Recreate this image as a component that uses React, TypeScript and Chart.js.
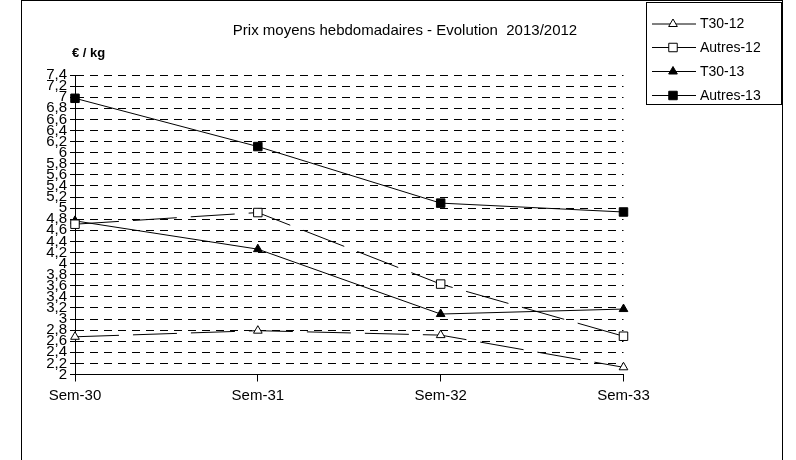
import React, { useEffect, useRef } from 'react';
import { Chart, registerables } from 'chart.js';

Chart.register(...registerables);

const categories = ['Sem-30', 'Sem-31', 'Sem-32', 'Sem-33'];
const seriesNames = ['T30-12', 'Autres-12', 'T30-13', 'Autres-13'];
const t30_12 = [2.68, 2.79, 2.71, 2.13];
const autres12 = [4.71, 4.92, 3.63, 2.69];
const t30_13 = [4.77, 4.26, 3.09, 3.18];
const autres13 = [6.98, 6.11, 5.09, 4.93];
const yMin = 2;
const yMax = 7.4;
const yStep = 0.2;
const titleText = 'Prix moyens hebdomadaires - Evolution  2013/2012';
const unitText = '€ / kg';

const FONT = '"Liberation Sans", Arial, sans-serif';

function drawMarker(ctx: CanvasRenderingContext2D, style: string, x: number, y: number, r: number, fill: string) {
  ctx.beginPath();
  if (style === 'triangle') {
    let rad = 0;
    const step = (2 * Math.PI) / 3;
    ctx.moveTo(x + Math.sin(rad) * r, y - Math.cos(rad) * r);
    rad += step;
    ctx.lineTo(x + Math.sin(rad) * r, y - Math.cos(rad) * r);
    rad += step;
    ctx.lineTo(x + Math.sin(rad) * r, y - Math.cos(rad) * r);
    ctx.closePath();
  } else {
    const s = r * Math.SQRT1_2;
    ctx.rect(x - s, y - s, 2 * s, 2 * s);
  }
  ctx.fillStyle = fill;
  ctx.fill();
  ctx.lineWidth = 1;
  ctx.strokeStyle = '#000';
  ctx.stroke();
}

const decorPlugin = {
  id: 'decor',
  afterDraw(chart: any) {
    const ctx: CanvasRenderingContext2D = chart.ctx;
    ctx.save();
    // outer frame
    ctx.lineWidth = 1;
    ctx.strokeStyle = '#000';
    ctx.setLineDash([]);
    ctx.strokeRect(21.5, 0.5, 761, 480);
    // title
    ctx.fillStyle = '#000';
    ctx.font = `15px ${FONT}`;
    ctx.textAlign = 'center';
    ctx.textBaseline = 'middle';
    ctx.fillText(titleText, 405, 31);
    // unit
    ctx.font = `bold 13px ${FONT}`;
    ctx.textAlign = 'left';
    ctx.fillText(unitText, 72, 53);
    // legend
    ctx.strokeRect(646.5, 2.5, 135, 102);
    ctx.font = `14px ${FONT}`;
    const rows = [24, 47.5, 71.5, 95.5];
    chart.data.datasets.forEach((ds: any, i: number) => {
      const y = rows[i];
      ctx.beginPath();
      ctx.moveTo(652, y);
      ctx.lineTo(696, y);
      ctx.lineWidth = 1;
      ctx.strokeStyle = '#000';
      ctx.stroke();
      drawMarker(ctx, ds.pointStyle, 673, y, ds.pointRadius, ds.pointBackgroundColor);
      ctx.fillStyle = '#000';
      ctx.textAlign = 'left';
      ctx.textBaseline = 'middle';
      ctx.fillText(ds.label, 700, y + 0.5);
    });
    ctx.restore();
  },
};

function fmt(v: number): string {
  const r = Math.round(v * 10) / 10;
  return String(r).replace('.', ',');
}

export default function App() {
  const ref = useRef<HTMLCanvasElement | null>(null);
  useEffect(() => {
    if (!ref.current) return;
    const mk = (label: string, data: number[], style: string, fill: string, dashed: boolean, r: number) => ({
      label,
      data,
      borderColor: '#000',
      borderWidth: 1,
      borderDash: dashed ? [44, 14] : [],
      backgroundColor: fill,
      pointStyle: style,
      pointRadius: r,
      pointHoverRadius: r,
      pointBackgroundColor: fill,
      pointBorderColor: '#000',
      pointBorderWidth: 1,
      fill: false,
      tension: 0,
      clip: false as any,
    });
    const chart = new Chart(ref.current, {
      type: 'line',
      data: {
        labels: categories,
        datasets: [
          mk(seriesNames[0], t30_12, 'triangle', '#fff', true, 5),
          mk(seriesNames[1], autres12, 'rect', '#fff', true, 6),
          mk(seriesNames[2], t30_13, 'triangle', '#000', false, 5),
          mk(seriesNames[3], autres13, 'rect', '#000', false, 6),
        ],
      },
      options: {
        responsive: false,
        animation: false,
        devicePixelRatio: window.devicePixelRatio || 1,
        layout: { padding: { top: 75, left: 0, right: 172.5, bottom: 0 } },
        plugins: {
          legend: { display: false },
          title: { display: false },
          tooltip: { enabled: false },
        },
        events: [],
        scales: {
          x: {
            type: 'category',
            offset: false,
            grid: { display: true, drawOnChartArea: false, drawTicks: true, tickLength: 7, color: '#000' },
            border: { display: true, color: '#000', width: 1 },
            ticks: { color: '#000', font: { family: FONT, size: 15 }, padding: 5, maxRotation: 0 },
            afterFit: (s: any) => { s.height = 85.5; },
          },
          y: {
            type: 'linear',
            min: yMin,
            max: yMax,
            grid: { display: true, drawOnChartArea: true, drawTicks: true, tickLength: 5, color: '#000', tickBorderDash: [] },
            border: { display: true, color: '#000', width: 1, dash: [8, 6] },
            ticks: {
              stepSize: yStep,
              autoSkip: false,
              color: '#000',
              font: { family: FONT, size: 15, lineHeight: 1 },
              padding: 3,
              callback: (v: any) => fmt(Number(v)),
            },
            afterFit: (s: any) => { s.width = 75; },
          },
        },
      },
      plugins: [decorPlugin],
    } as any);
    return () => chart.destroy();
  }, []);
  return (
    <div style={{ position: 'absolute', left: 0, top: 0, width: 796, height: 460, background: '#fff' }}>
      <canvas ref={ref} width={796} height={460} style={{ width: 796, height: 460, display: 'block' }} />
    </div>
  );
}
